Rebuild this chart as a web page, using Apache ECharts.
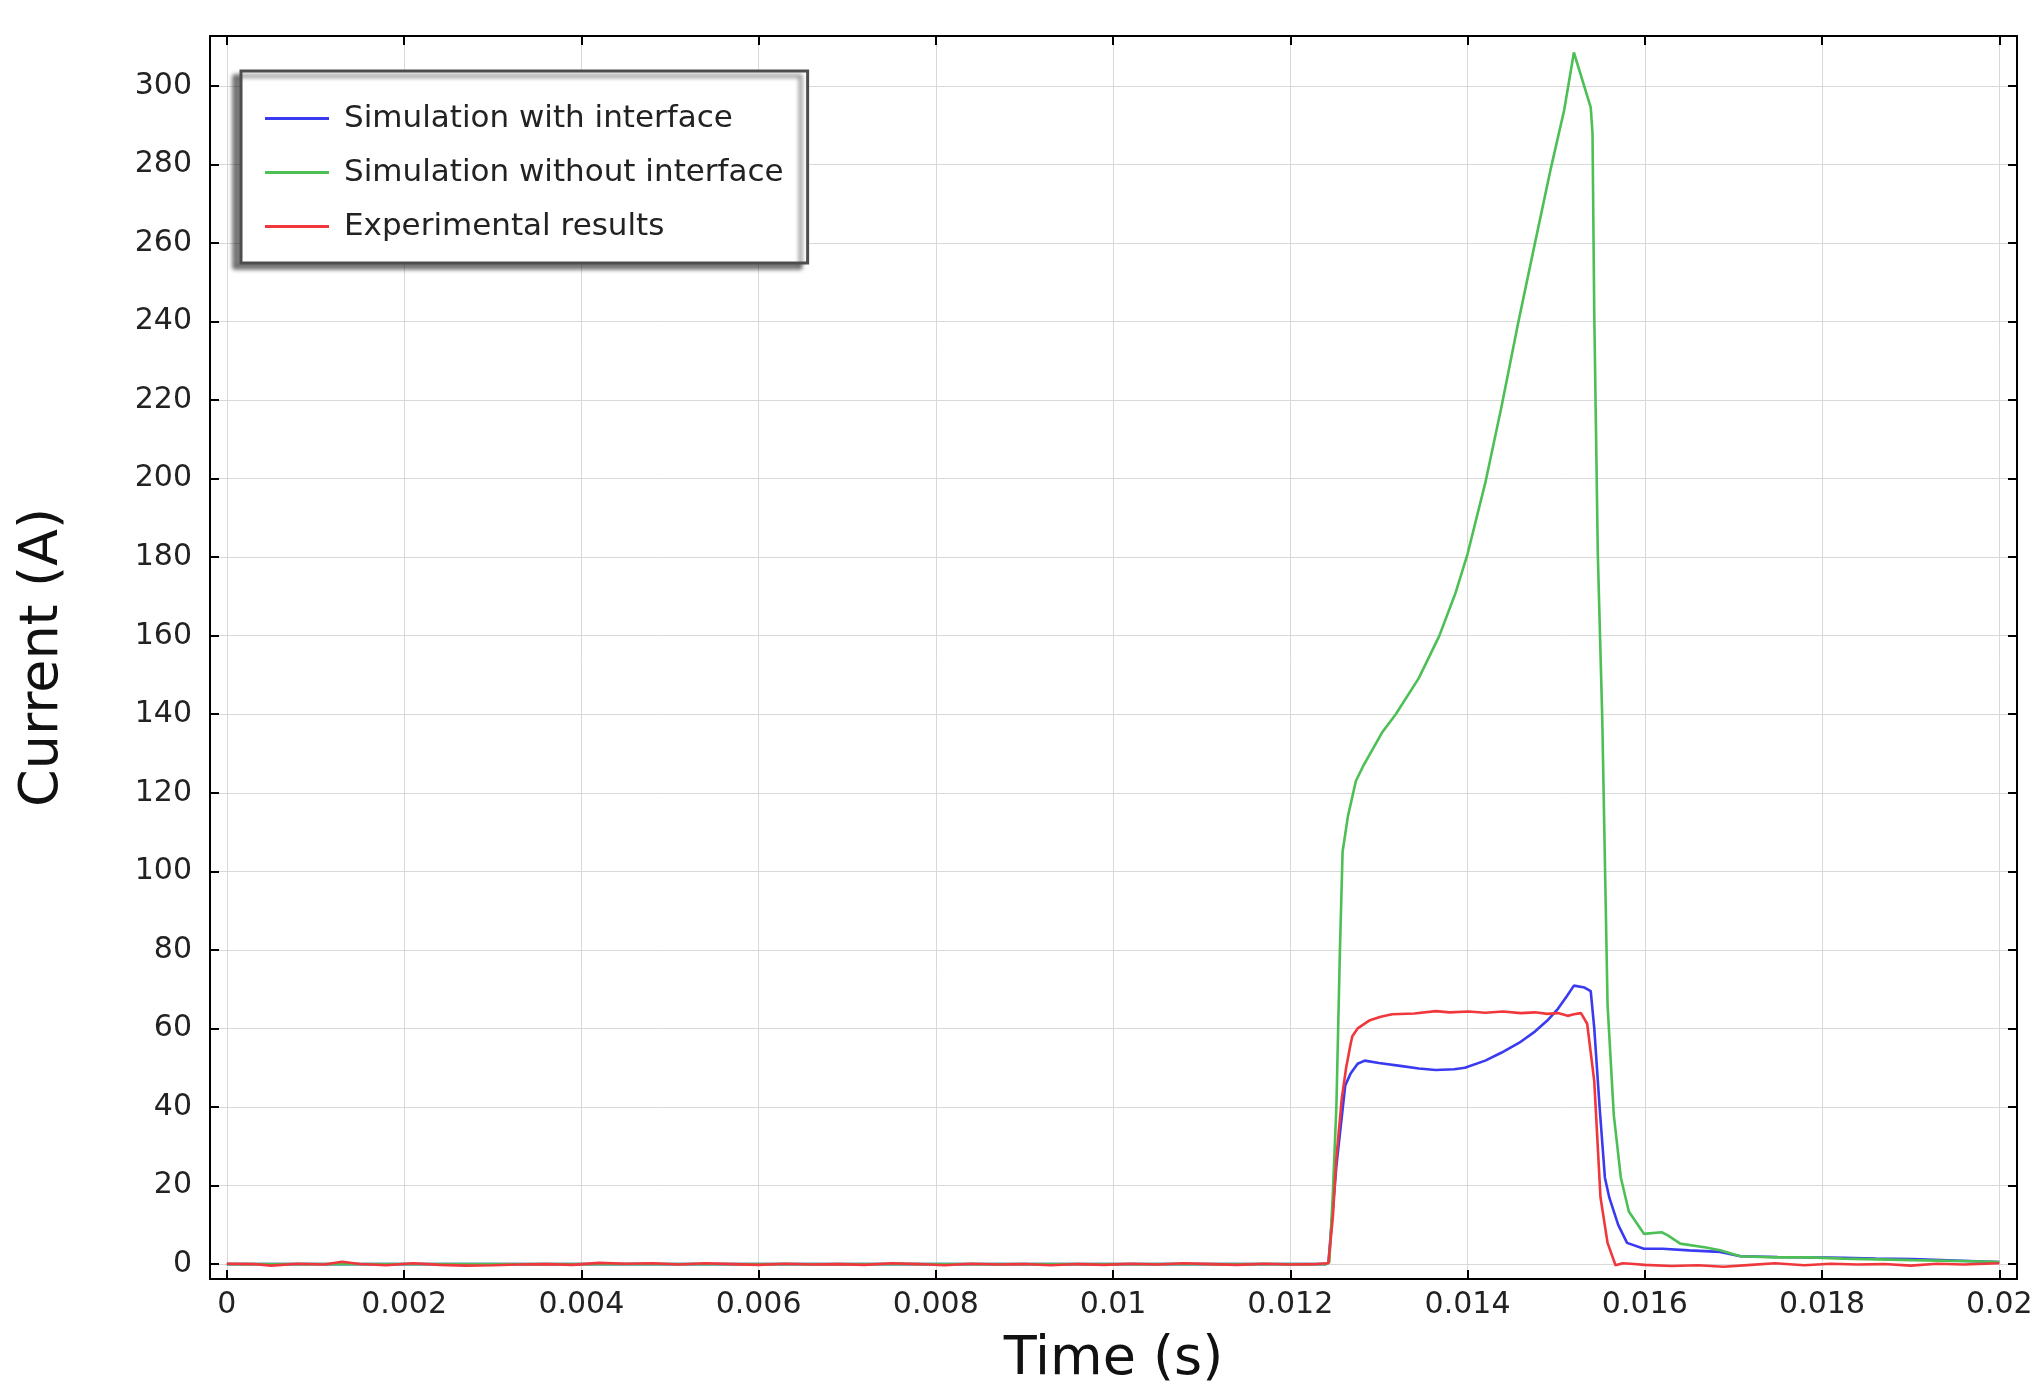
<!DOCTYPE html>
<html>
<head>
<meta charset="utf-8">
<script src="https://cdn.jsdelivr.net/npm/echarts@6/dist/echarts.min.js"></script>
<style>
  html, body { margin: 0; padding: 0; background: #fff; }
  #chart { width: 2036px; height: 1394px; }
</style>
</head>
<body>
<div id="chart"></div>
<script>
// tick positions
var xTicks = [0, 0.002, 0.004, 0.006, 0.008, 0.01, 0.012, 0.014, 0.016, 0.018, 0.02];
var yTicks = [0, 20, 40, 60, 80, 100, 120, 140, 160, 180, 200, 220, 240, 260, 280, 300];

var seriesNames = ['Simulation with interface', 'Simulation without interface', 'Experimental results'];

// Simulation with interface (blue)
var withT = [0, 0.0124, 0.01243, 0.01252, 0.01262, 0.01268, 0.01276, 0.01284, 0.0130, 0.01326, 0.01345, 0.01364,
  0.01385, 0.01397, 0.0142, 0.01438, 0.01458, 0.01476, 0.0149, 0.01502, 0.01512, 0.0152, 0.01532, 0.01539,
  0.01543, 0.01549, 0.01555, 0.0156, 0.0157, 0.0158, 0.01599, 0.0162, 0.0165, 0.01685, 0.01708, 0.0175,
  0.01786, 0.01824, 0.0186, 0.01902, 0.0195, 0.02];
var withI = [0, 0, 0.3, 25, 45.5, 48.5, 51, 51.8, 51.2, 50.4, 49.8, 49.4,
  49.6, 50.0, 51.8, 53.8, 56.3, 59.2, 62, 65, 68.2, 70.9, 70.4, 69.5,
  60, 40, 22, 16.9, 10, 5.4, 3.9, 3.9, 3.5, 3.1, 2.0, 1.8,
  1.7, 1.6, 1.4, 1.25, 0.9, 0.5];

// Simulation without interface (green)
var withoutT = [0, 0.0124, 0.01244, 0.01248, 0.01252, 0.01256, 0.01259, 0.01265, 0.01274, 0.01282, 0.01304, 0.01319,
  0.01345, 0.01368, 0.01386, 0.014, 0.0142, 0.01438, 0.01457, 0.01476, 0.01494, 0.01509, 0.0152, 0.01539,
  0.01541, 0.01543, 0.01547, 0.01552, 0.01558, 0.01565, 0.01573, 0.01582, 0.01599, 0.01619, 0.01626, 0.0164,
  0.01669, 0.01685, 0.01708, 0.01747, 0.01786, 0.01824, 0.01902, 0.01995, 0.02];
var withoutI = [0, 0, 0.5, 18, 40, 80, 105, 114, 123, 126.7, 135.5, 140,
  149.2, 159.9, 170.6, 180.8, 198.9, 218, 239.5, 259.9, 279, 293.8, 308.5, 294.5,
  288, 241.8, 180.8, 139, 66, 38, 22, 13.4, 7.7, 8.1, 7.3, 5.2,
  4.2, 3.5, 2.0, 1.7, 1.7, 1.4, 1.0, 0.6, 0.5];

// Experimental results (red)
var expT = [0, 0.0003, 0.0005, 0.0008, 0.0011, 0.0013, 0.0015, 0.0018, 0.0021, 0.0024, 0.0027, 0.003,
  0.0033, 0.0036, 0.0039, 0.0042, 0.0045, 0.0048, 0.0051, 0.0054, 0.0057, 0.006, 0.0063, 0.0066,
  0.0069, 0.0072, 0.0075, 0.0078, 0.0081, 0.0084, 0.0087, 0.009, 0.0093, 0.0096, 0.0099, 0.0102,
  0.0105, 0.0108, 0.0111, 0.0114, 0.0117, 0.012, 0.0123, 0.01243, 0.01248, 0.01252, 0.01258, 0.01263,
  0.01268, 0.0127, 0.01276, 0.01289, 0.01302, 0.01315, 0.0134, 0.01364, 0.0138, 0.01401, 0.0142, 0.0144,
  0.0146, 0.01476, 0.0149, 0.01502, 0.01513, 0.0152, 0.01528, 0.01535, 0.01543, 0.0155, 0.01558, 0.01567,
  0.01575, 0.01588, 0.016, 0.0163, 0.0166, 0.01689, 0.0172, 0.01747, 0.0178, 0.0181, 0.0184, 0.0187,
  0.019, 0.0193, 0.0196, 0.02];
var expI = [0.1, 0.0, -0.4, 0.1, -0.1, 0.6, 0.0, -0.3, 0.2, -0.2, -0.4, -0.3,
  -0.1, 0.0, -0.2, 0.3, 0.1, 0.2, -0.1, 0.2, 0.0, -0.2, 0.1, -0.1,
  0.0, -0.2, 0.2, 0.0, -0.3, 0.1, -0.1, 0.0, -0.3, 0.0, -0.2, 0.1,
  -0.1, 0.2, 0.0, -0.2, 0.1, -0.1, 0.0, 0.2, 12, 27, 42, 50,
  56, 58, 60, 62, 63, 63.6, 63.8, 64.4, 64.1, 64.3, 64.0, 64.3,
  63.9, 64.1, 63.7, 63.9, 63.2, 63.6, 63.9, 61.2, 46.5, 17, 5.4, -0.3,
  0.2, 0, -0.2, -0.5, -0.3, -0.7, -0.2, 0.2, -0.3, 0.1, -0.1, 0.0,
  -0.4, 0.1, -0.1, 0.2];

var colors = ['#3a3af0', '#4cbf55', '#f0383c'];

function pairs(t, v) {
  var out = [];
  for (var i = 0; i < t.length; i++) out.push([t[i], v[i]]);
  return out;
}

var chart = echarts.init(document.getElementById('chart'));

var font = 'DejaVu Sans';
var xMin = -0.00019, xMax = 0.0202;
var yMin = -3.8, yMax = 312.7;

var option = {
  animation: false,
  backgroundColor: '#fff',
  color: colors,
  grid: { left: 210, right: 19, top: 36, bottom: 115 },
  legend: {
    orient: 'vertical',
    left: 241,
    top: 71,
    icon: 'rect',
    itemWidth: 64,
    itemHeight: 3,
    itemGap: 23,
    padding: [32, 24, 21, 24],
    backgroundColor: '#fff',
    borderColor: '#4d4d4d',
    borderWidth: 3,
    borderRadius: 0,
    shadowColor: 'rgba(0,0,0,0.5)',
    shadowBlur: 4,
    shadowOffsetX: -7,
    shadowOffsetY: 5,
    textStyle: {
      fontFamily: font,
      fontSize: 31,
      lineHeight: 31,
      color: '#222',
      padding: [0, 0, 0, 10]
    },
    data: seriesNames
  },
  xAxis: [{
    type: 'value',
    min: xMin,
    max: xMax,
    name: 'Time (s)',
    nameLocation: 'middle',
    nameGap: 54,
    nameTextStyle: { fontFamily: font, fontSize: 54, color: '#111' },
    axisLine: { show: true, onZero: false, lineStyle: { color: '#000', width: 2 } },
    axisTick: { show: true, inside: true, length: 9, customValues: xTicks, lineStyle: { color: '#000', width: 2 } },
    axisLabel: {
      customValues: xTicks,
      margin: 11,
      fontFamily: font,
      fontSize: 30,
      color: '#222',
      formatter: function (v) { return String(Number(v.toFixed(4))); }
    },
    splitLine: { show: true, lineStyle: { color: '#d9d9d9', width: 1 } }
  }, {
    type: 'value',
    position: 'top',
    min: xMin,
    max: xMax,
    axisLine: { show: true, onZero: false, lineStyle: { color: '#000', width: 2 } },
    axisTick: { show: true, inside: true, length: 9, customValues: xTicks, lineStyle: { color: '#000', width: 2 } },
    axisLabel: { show: false },
    splitLine: { show: false }
  }],
  yAxis: [{
    type: 'value',
    min: yMin,
    max: yMax,
    name: 'Current (A)',
    nameLocation: 'middle',
    nameGap: 140,
    nameTextStyle: { fontFamily: font, fontSize: 54, color: '#111' },
    axisLine: { show: true, onZero: false, lineStyle: { color: '#000', width: 2 } },
    axisTick: { show: true, inside: true, length: 9, customValues: yTicks, lineStyle: { color: '#000', width: 2 } },
    axisLabel: {
      customValues: yTicks,
      margin: 18,
      fontFamily: font,
      fontSize: 30,
      color: '#222'
    },
    splitLine: { show: true, lineStyle: { color: '#d9d9d9', width: 1 } }
  }, {
    type: 'value',
    position: 'right',
    min: yMin,
    max: yMax,
    axisLine: { show: true, onZero: false, lineStyle: { color: '#000', width: 2 } },
    axisTick: { show: true, inside: true, length: 9, customValues: yTicks, lineStyle: { color: '#000', width: 2 } },
    axisLabel: { show: false },
    splitLine: { show: false }
  }],
  series: [{
    name: seriesNames[0],
    type: 'line',
    data: pairs(withT, withI),
    showSymbol: false,
    lineStyle: { width: 2.6, color: colors[0] }
  }, {
    name: seriesNames[1],
    type: 'line',
    data: pairs(withoutT, withoutI),
    showSymbol: false,
    lineStyle: { width: 2.6, color: colors[1] }
  }, {
    name: seriesNames[2],
    type: 'line',
    data: pairs(expT, expI),
    showSymbol: false,
    lineStyle: { width: 2.6, color: colors[2] }
  }]
};

chart.setOption(option);
</script>
</body>
</html>
